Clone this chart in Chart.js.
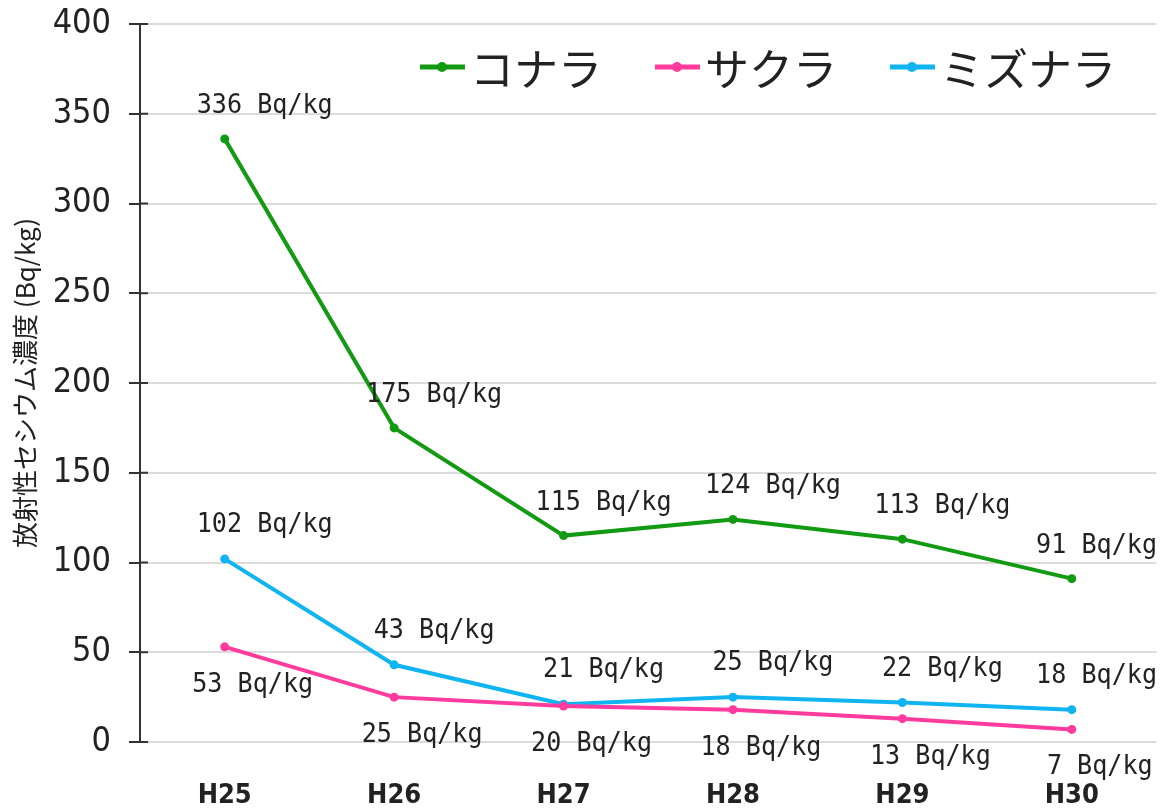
<!DOCTYPE html>
<html lang="ja">
<head>
<meta charset="utf-8">
<title>放射性セシウム濃度</title>
<script src="https://cdn.jsdelivr.net/npm/chart.js@4/dist/chart.umd.min.js"></script>
<style>
  html, body { margin: 0; padding: 0; background: #ffffff; }
  #wrap { width: 1161px; height: 809px; }
</style>
</head>
<body>
<div id="wrap"><canvas id="csChart" width="1161" height="809"></canvas></div>
<script>
/* ---------- データ ---------- */
var YEARS = ["H25", "H26", "H27", "H28", "H29", "H30"];
var KONARA = [336, 175, 115, 124, 113, 91];
var SAKURA = [53, 25, 20, 18, 13, 7];
var MIZUNARA = [102, 43, 21, 25, 22, 18];
var Y_MIN = 0, Y_MAX = 400, Y_STEP = 50;

var NARROW = "'Liberation Sans Narrow','DejaVu Sans Condensed','Liberation Sans',sans-serif";
var CJK = "'Noto Sans CJK JP','Noto Sans',sans-serif";
var MONO = "'DejaVu Sans Mono','Liberation Mono',monospace";
var INK = "#222222";

(function () {
  /* ---------- 値ラベル ---------- */
  var valueLabels = {
    id: "valueLabels",
    afterDatasetsDraw: function (chart) {
      var ctx = chart.ctx;
      var W = chart.width;
      ctx.save();
      ctx.font = "27px " + MONO;
      ctx.fillStyle = INK;
      ctx.textAlign = "center";
      ctx.textBaseline = "middle";
      chart.data.datasets.forEach(function (ds, i) {
        var meta = chart.getDatasetMeta(i);
        meta.data.forEach(function (pt, j) {
          var txt = ds.data[j] + " Bq/kg";
          var w = ctx.measureText(txt).width * 0.93;
          var x = pt.x + ds.labelDx;
          if (x + w / 2 > W - 4) x = W - 4 - w / 2;
          ctx.save();
          ctx.translate(x, pt.y + ds.labelDy);
          ctx.scale(0.93, 1);
          ctx.fillText(txt, 0, 0);
          ctx.restore();
        });
      });
      ctx.restore();
    }
  };

  /* ---------- 凡例（グラフ内右上） ---------- */
  var insideLegend = {
    id: "insideLegend",
    afterDraw: function (chart) {
      var ctx = chart.ctx;
      var x = 420, y = 67;
      ctx.save();
      ctx.font = "44px " + CJK;
      ctx.textBaseline = "middle";
      ctx.textAlign = "left";
      chart.data.datasets.forEach(function (ds) {
        ctx.strokeStyle = ds.borderColor;
        ctx.lineWidth = 5;
        ctx.beginPath();
        ctx.moveTo(x, y);
        ctx.lineTo(x + 45, y);
        ctx.stroke();
        ctx.fillStyle = ds.borderColor;
        ctx.beginPath();
        ctx.arc(x + 22, y, 5, 0, Math.PI * 2);
        ctx.fill();
        ctx.fillStyle = INK;
        ctx.fillText(ds.label, x + 50, y + 2);
        x += 50 + ctx.measureText(ds.label).width + 53;
      });
      ctx.restore();
    }
  };

  /* ---------- 軸の内側の目盛り ---------- */
  var innerTicks = {
    id: "innerTicks",
    afterDraw: function (chart) {
      var ctx = chart.ctx;
      var ys = chart.scales.y;
      ctx.save();
      ctx.strokeStyle = "#333333";
      ctx.lineWidth = 2;
      ys.ticks.forEach(function (t) {
        var py = ys.getPixelForValue(t.value);
        ctx.beginPath();
        ctx.moveTo(ys.right, py);
        ctx.lineTo(ys.right + 8, py);
        ctx.stroke();
      });
      ctx.restore();
    }
  };

  function init() {
    var ctx = document.getElementById("csChart").getContext("2d");
    new Chart(ctx, {
      type: "line",
      data: {
        labels: YEARS,
        datasets: [
          {
            label: "コナラ",
            data: KONARA,
            borderColor: "#129a12",
            backgroundColor: "#129a12",
            borderWidth: 4,
            pointRadius: 4.5,
            pointBorderWidth: 0,
            labelDx: 40,
            labelDy: -33
          },
          {
            label: "サクラ",
            data: SAKURA,
            borderColor: "#ff3c9e",
            backgroundColor: "#ff3c9e",
            borderWidth: 4,
            pointRadius: 4.5,
            pointBorderWidth: 0,
            labelDx: 28,
            labelDy: 38
          },
          {
            label: "ミズナラ",
            data: MIZUNARA,
            borderColor: "#10b4f0",
            backgroundColor: "#10b4f0",
            borderWidth: 4,
            pointRadius: 4.5,
            pointBorderWidth: 0,
            labelDx: 40,
            labelDy: -34
          }
        ]
      },
      options: {
        responsive: false,
        animation: false,
        layout: { padding: { top: 24, right: 0, left: 0, bottom: 0 } },
        scales: {
          x: {
            offset: true,
            grid: { display: false },
            border: { display: false },
            ticks: {
              color: INK,
              padding: 30,
              font: { family: NARROW, size: 27, weight: "bold" }
            },
            afterFit: function (s) { s.height = 67; }
          },
          y: {
            min: Y_MIN,
            max: Y_MAX,
            border: { display: true, color: "#333333", width: 2 },
            grid: {
              color: "#dcdcdc",
              lineWidth: 2,
              tickLength: 11,
              tickColor: "#333333",
              tickWidth: 2
            },
            ticks: {
              stepSize: Y_STEP,
              color: INK,
              padding: 18,
              font: { family: NARROW, size: 34 }
            },
            title: {
              display: true,
              text: "放射性セシウム濃度 (Bq/kg)",
              color: INK,
              padding: { top: 10, bottom: 0 },
              font: { family: CJK, size: 26 }
            },
            afterFit: function (s) {
              s.width = 140;
              s.paddingTop = 0;
              s.paddingBottom = 0;
            }
          }
        },
        plugins: {
          legend: { display: false },
          tooltip: { enabled: false }
        }
      },
      plugins: [valueLabels, insideLegend, innerTicks]
    });
  }

  if (document.readyState === "loading") {
    document.addEventListener("DOMContentLoaded", init);
  } else {
    init();
  }
})();
</script>
</body>
</html>
